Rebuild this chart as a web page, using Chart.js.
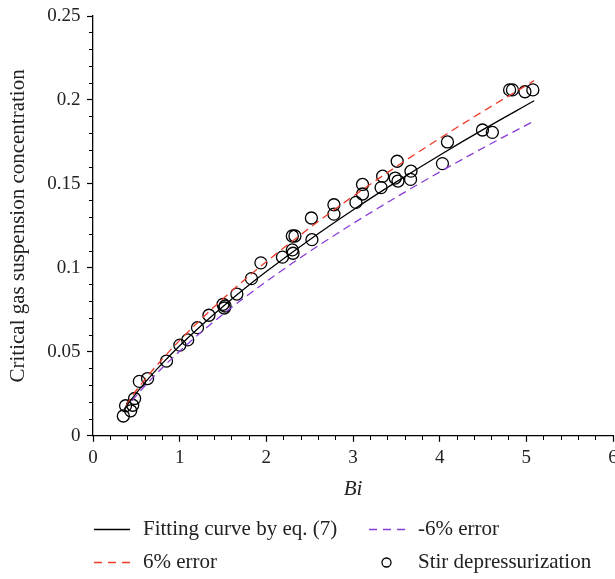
<!DOCTYPE html>
<html>
<head>
<meta charset="utf-8">
<script src="https://cdn.jsdelivr.net/npm/chart.js@4.4.1/dist/chart.umd.min.js"></script>
<style>
  html, body { margin: 0; padding: 0; overflow: hidden; background: #fff; }
  #wrap { width: 615px; height: 579px; overflow: hidden; }
</style>
</head>
<body>
<div id="wrap"><canvas id="chart" width="640" height="579"></canvas></div>
<script>
// Stir depressurization runs
const biValues = [0.35, 0.376, 0.435, 0.458, 0.48, 0.535, 0.63, 0.848, 1.002, 1.093,
  1.206, 1.338, 1.501, 1.515, 1.524, 1.66, 1.828, 1.937, 2.186, 2.30,
  2.33, 2.30, 2.308, 2.52, 2.526, 2.78, 2.78, 3.034, 3.11, 3.11,
  3.324, 3.342, 3.487, 3.51, 3.519, 3.664, 3.669, 4.032, 4.09, 4.494,
  4.608, 4.807, 4.84, 4.984, 5.075];
const concValues = [0.0118, 0.0179, 0.0149, 0.0182, 0.0222, 0.0324, 0.0341, 0.0445, 0.054, 0.0571,
  0.0644, 0.0718, 0.0783, 0.0761, 0.0773, 0.0844, 0.0936, 0.103, 0.1064, 0.119,
  0.119, 0.1107, 0.1087, 0.1297, 0.1168, 0.1376, 0.132, 0.139, 0.1497, 0.144,
  0.1478, 0.1546, 0.1535, 0.1635, 0.1517, 0.1527, 0.1576, 0.1621, 0.175, 0.1821,
  0.1807, 0.206, 0.206, 0.2049, 0.206];

// fitting curve by eq. (7)
const fitBi = [0.36, 0.45, 0.6, 0.8, 1.0, 1.25, 1.5, 1.75, 2.0, 2.5, 3.0, 3.5, 4.0, 4.5, 5.09];
const fitConc = [0.0158, 0.0222, 0.0317, 0.0431, 0.0536, 0.0657, 0.077, 0.0877, 0.0978, 0.1168, 0.1345, 0.1512, 0.1671, 0.1823, 0.1995];

// +6% band
const upperBi = [0.38, 0.45, 0.6, 0.8, 1.0, 1.25, 1.5, 1.75, 2.0, 2.5, 3.0, 3.5, 4.0, 4.5, 5.09];
const upperConc = [0.0178, 0.0235, 0.0336, 0.0457, 0.0568, 0.0696, 0.0816, 0.093, 0.1037, 0.1238, 0.1426, 0.1603, 0.1771, 0.1932, 0.2115];

// -6% band
const lowerBi = [0.45, 0.6, 0.8, 1.0, 1.25, 1.5, 1.75, 2.0, 2.5, 3.0, 3.5, 4.0, 4.5, 5.09];
const lowerConc = [0.0209, 0.0298, 0.0405, 0.0504, 0.0618, 0.0724, 0.0824, 0.0919, 0.1098, 0.1264, 0.1421, 0.1571, 0.1714, 0.1875];

const xTickLabels = ['0', '1', '2', '3', '4', '5', '6'];
const yTickLabels = ['0', '0.05', '0.1', '0.15', '0.2', '0.25'];

const serif = '"Liberation Serif", "Times New Roman", serif';
const ink = '#222';

const pairs = (xs, ys) => xs.map((x, i) => ({ x: x, y: ys[i] }));

// 2 x 2 legend under the axis title
const legendSlots = [
  { ds: 0, x: 94, y: 529.5 },
  { ds: 1, x: 369, y: 529.5 },
  { ds: 2, x: 94, y: 562.5 },
  { ds: 3, x: 369, y: 562.5 }
];
const gridLegend = {
  id: 'gridLegend',
  afterDraw(chart) {
    const ctx = chart.ctx;
    ctx.save();
    ctx.font = '21px ' + serif;
    ctx.textBaseline = 'middle';
    legendSlots.forEach(slot => {
      const ds = chart.data.datasets[slot.ds];
      ctx.beginPath();
      if (ds.showLine) {
        ctx.setLineDash(ds.borderDash ? [8, 6] : []);
        ctx.lineWidth = ds.borderWidth;
        ctx.strokeStyle = ds.borderColor;
        ctx.moveTo(slot.x, slot.y);
        ctx.lineTo(slot.x + 36, slot.y);
      } else {
        ctx.setLineDash([]);
        ctx.lineWidth = ds.pointBorderWidth;
        ctx.strokeStyle = ds.pointBorderColor;
        ctx.arc(slot.x + 17.5, slot.y, 4.5, 0, Math.PI * 2);
      }
      ctx.stroke();
      ctx.fillStyle = ink;
      ctx.fillText(ds.label, slot.x + 49, slot.y);
    });
    ctx.restore();
  }
};

const lineDefaults = { showLine: true, pointRadius: 0, borderWidth: 1.3, fill: false, cubicInterpolationMode: 'monotone' };

new Chart(document.getElementById('chart'), {
  type: 'scatter',
  data: {
    datasets: [
      Object.assign({ label: 'Fitting curve by eq. (7)', data: pairs(fitBi, fitConc), borderColor: '#000' }, lineDefaults),
      Object.assign({ label: '-6% error', data: pairs(lowerBi, lowerConc), borderColor: '#8a3bd8', borderDash: [8, 5] }, lineDefaults),
      Object.assign({ label: '6% error', data: pairs(upperBi, upperConc), borderColor: '#ec3b2a', borderDash: [8, 5] }, lineDefaults),
      {
        label: 'Stir depressurization',
        data: pairs(biValues, concValues),
        showLine: false,
        pointStyle: 'circle',
        pointRadius: 6,
        pointBorderWidth: 1.3,
        pointBorderColor: '#000',
        pointBackgroundColor: 'rgba(0,0,0,0)'
      }
    ]
  },
  options: {
    responsive: false,
    devicePixelRatio: 1,
    animation: false,
    events: [],
    layout: { padding: { top: 10.7, right: 27, bottom: 73, left: 0 } },
    plugins: {
      legend: { display: false },
      tooltip: { enabled: false }
    },
    scales: {
      x: {
        type: 'linear', position: 'bottom', min: 0, max: 6,
        afterFit: s => { s.height = 70.2; },
        ticks: {
          stepSize: 1, autoSkip: false, maxRotation: 0, padding: 5, color: ink,
          font: { family: serif, size: 19 },
          callback: (v, i) => xTickLabels[i]
        },
        grid: { drawOnChartArea: false, tickLength: 6, tickColor: '#000', tickWidth: 1.2 },
        border: { color: '#000', width: 1.3 },
        title: {
          display: true, text: 'Bi', color: ink,
          font: { family: serif, size: 21, style: 'italic' },
          padding: { top: 0, bottom: 4 }
        }
      },
      y: {
        type: 'linear', position: 'left', min: 0, max: 0.25,
        afterFit: s => { s.width = 93; },
        ticks: {
          stepSize: 0.05, autoSkip: false, padding: 6.5, color: ink,
          font: { family: serif, size: 19, lineHeight: 1 },
          callback: (v, i) => yTickLabels[i]
        },
        grid: { drawOnChartArea: false, tickLength: 6, tickColor: '#000', tickWidth: 1.2 },
        border: { color: '#000', width: 1.3 },
        title: {
          display: true, text: 'Critical gas suspension concentration', color: ink,
          font: { family: serif, size: 21 },
          padding: { top: 6, bottom: 0 }
        }
      },
      // minor tick marks, anchored on the main axis lines
      xMinor: {
        type: 'linear', axis: 'x', position: { y: 0 }, min: 0, max: 6,
        ticks: { stepSize: 0.2, display: false },
        grid: { drawOnChartArea: false, tickLength: 4, tickColor: '#000', tickWidth: 1 },
        border: { display: false }
      },
      yMinor: {
        type: 'linear', axis: 'y', position: { x: 0 }, min: 0, max: 0.25,
        ticks: { stepSize: 0.01, display: false },
        grid: { drawOnChartArea: false, tickLength: 4, tickColor: '#000', tickWidth: 1 },
        border: { display: false }
      }
    }
  },
  plugins: [gridLegend]
});
</script>
</body>
</html>
